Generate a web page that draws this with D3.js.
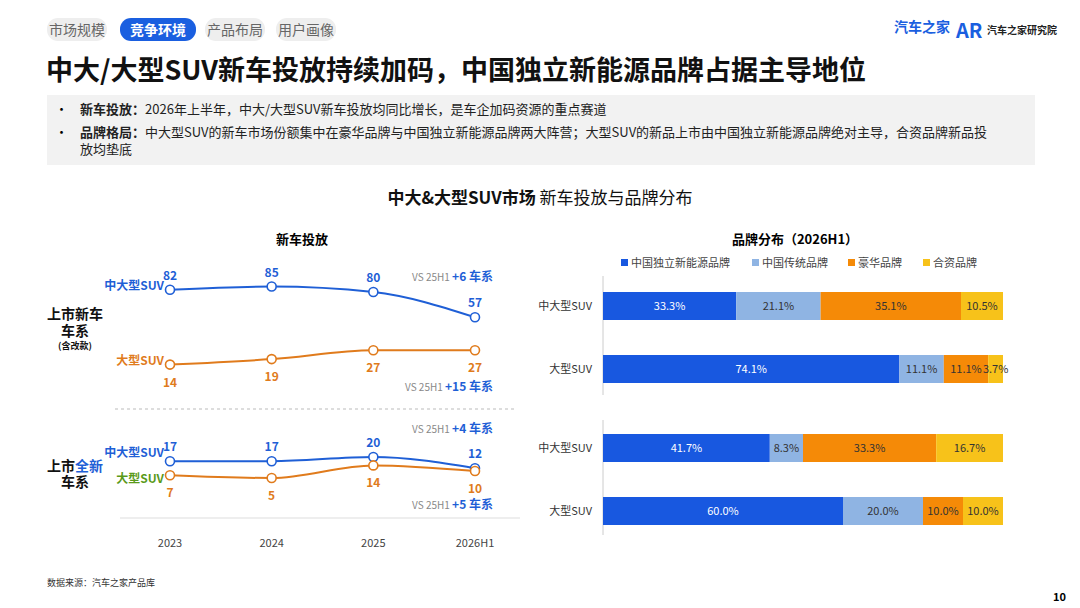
<!DOCTYPE html>
<html><head><meta charset="utf-8">
<script src="https://cdn.jsdelivr.net/npm/d3@7"></script>
<style>body{margin:0;background:#fff;font-family:"Noto Sans CJK SC","Noto Sans",sans-serif}</style>
</head><body><svg id="c" width="1080" height="608"></svg>
<script>
// data
var years = ["2023", "2024", "2025", "2026H1"];
var allMid = [82, 85, 80, 57];
var allLarge = [14, 19, 27, 27];
var newMid = [17, 17, 20, 12];
var newLarge = [7, 5, 14, 10];
var brands = ["中国独立新能源品牌", "中国传统品牌", "豪华品牌", "合资品牌"];
var brandColors = ["#1858e0", "#8fb4e3", "#f58a07", "#f7c21a"];
var rowLabels = ["中大型SUV", "大型SUV", "中大型SUV", "大型SUV"];
var shares = [[33.3, 21.1, 35.1, 10.5], [74.1, 11.1, 11.1, 3.7], [41.7, 8.3, 33.3, 16.7], [60.0, 20.0, 10.0, 10.0]];

var svg = d3.select("#c");
var blue = "#1f5fd6", orange = "#e07b1c", dark = "#111";

// tabs
var tabs = [["市场规模", 47, 60], ["竞争环境", 120, 76], ["产品布局", 205, 60], ["用户画像", 276, 60]];
tabs.forEach(function (t, i) {
  svg.append("rect").attr("x", t[1]).attr("y", 18).attr("width", t[2]).attr("height", 23).attr("rx", 11)
    .attr("fill", i == 1 ? "#1a5fe0" : "#eeeeee");
  svg.append("text").attr("x", t[1] + t[2] / 2).attr("y", 35).attr("text-anchor", "middle")
    .attr("font-size", 14).attr("font-weight", i == 1 ? "bold" : "normal").attr("fill", i == 1 ? "#fff" : "#666").text(t[0]);
});
// logos
svg.append("text").attr("x", 894).attr("y", 32).attr("font-size", 14).attr("font-weight", "bold").attr("fill", "#1a5fe0").text("汽车之家");
svg.append("text").attr("x", 956).attr("y", 38).attr("font-size", 20).attr("font-weight", "bold").attr("fill", "#1a5fe0").text("AR");
svg.append("text").attr("x", 987).attr("y", 34).attr("font-size", 10).attr("font-weight", "bold").attr("fill", "#222").text("汽车之家研究院");

svg.append("text").attr("x", 46).attr("y", 80).attr("font-size", 27).attr("font-weight", "bold").attr("fill", dark)
  .text("中大/大型SUV新车投放持续加码，中国独立新能源品牌占据主导地位");

// summary box
svg.append("rect").attr("x", 47).attr("y", 95).attr("width", 988).attr("height", 70).attr("fill", "#f2f2f2");
var bullets = [
  [114, "新车投放：", "2026年上半年，中大/大型SUV新车投放均同比增长，是车企加码资源的重点赛道"],
  [137, "品牌格局：", "中大型SUV的新车市场份额集中在豪华品牌与中国独立新能源品牌两大阵营；大型SUV的新品上市由中国独立新能源品牌绝对主导，合资品牌新品投"]
];
bullets.forEach(function (b) {
  svg.append("text").attr("x", 55).attr("y", b[0]).attr("font-size", 13).text("•");
  var t = svg.append("text").attr("x", 80).attr("y", b[0]).attr("font-size", 13).attr("fill", "#222");
  t.append("tspan").attr("font-weight", "bold").text(b[1]);
  t.append("tspan").text(b[2]);
});
svg.append("text").attr("x", 80).attr("y", 154).attr("font-size", 13).attr("fill", "#222").text("放均垫底");

var st = svg.append("text").attr("x", 540).attr("y", 204).attr("text-anchor", "middle").attr("font-size", 17).attr("fill", dark);
st.append("tspan").attr("font-weight", "bold").text("中大&大型SUV市场 ");
st.append("tspan").text("新车投放与品牌分布");

// ---- left line charts
svg.append("text").attr("x", 302).attr("y", 244).attr("text-anchor", "middle").attr("font-size", 13).attr("font-weight", "bold").text("新车投放");
var x = d3.scalePoint().domain(years).range([170, 475]);
var yTop = d3.scaleLinear().domain([0, 100]).range([380, 270]);
var yBot = d3.scaleLinear().domain([0, 20]).range([485, 457]);
var line = function (ys) {
  return d3.line().x(function (d, i) { return x(years[i]); }).y(function (d) { return ys(d); }).curve(d3.curveMonotoneX);
};
function series(vals, ys, color, above, name, nameDy, nameColor) {
  svg.append("path").datum(vals).attr("d", line(ys)).attr("fill", "none").attr("stroke", color).attr("stroke-width", 2);
  var g = svg.append("g");
  g.selectAll("circle").data(vals).join("circle").attr("cx", function (d, i) { return x(years[i]); })
    .attr("cy", function (d) { return ys(d); }).attr("r", 4.5).attr("fill", "#fff").attr("stroke", color).attr("stroke-width", 1.6);
  g.selectAll("text").data(vals).join("text").attr("x", function (d, i) { return x(years[i]); })
    .attr("y", function (d, i) { return ys(d) + (above ? -10 : 22); }).attr("text-anchor", "middle")
    .attr("font-size", 12).attr("font-weight", "bold").attr("fill", color).text(function (d) { return d; });
  svg.append("text").attr("x", 164).attr("y", ys(vals[0]) + nameDy).attr("text-anchor", "end").attr("font-size", 12)
    .attr("font-weight", "bold").attr("fill", nameColor || color).text(name);
}
series(allMid, yTop, blue, true, "中大型SUV", 0);
series(allLarge, yTop, orange, false, "大型SUV", 0);
series(newMid, yBot, blue, true, "中大型SUV", -4);
series(newLarge, yBot, orange, false, "大型SUV", 8, "#5a9a1a");

function vs(yy, num) {
  var t = svg.append("text").attr("x", 493).attr("y", yy).attr("text-anchor", "end").attr("font-size", 10).attr("fill", "#888");
  t.append("tspan").text("VS 25H1 ");
  t.append("tspan").attr("font-size", 12).attr("font-weight", "bold").attr("fill", blue).text(num + " 车系");
}
vs(281, "+6"); vs(391, "+15"); vs(433, "+4"); vs(509, "+5");

function rowLabel(lines, ys) {
  lines.forEach(function (l, i) {
    var t = svg.append("text").attr("x", 75).attr("y", ys[i]).attr("text-anchor", "middle")
      .attr("font-size", l.size || 14).attr("font-weight", "bold").attr("fill", dark);
    l.parts.forEach(function (p) { t.append("tspan").attr("fill", p[1] || dark).text(p[0]); });
  });
}
rowLabel([{parts: [["上市新车"]]}, {parts: [["车系"]]}, {parts: [["(含改款)"]], size: 9}], [319, 336, 349]);
rowLabel([{parts: [["上市"], ["全新", blue]]}, {parts: [["车系"]]}], [471, 487]);

svg.append("line").attr("x1", 115).attr("x2", 515).attr("y1", 409).attr("y2", 409).attr("stroke", "#bbb").attr("stroke-dasharray", "3,3");
svg.append("line").attr("x1", 120).attr("x2", 520).attr("y1", 518).attr("y2", 518).attr("stroke", "#ddd");
svg.append("g").selectAll("text").data(years).join("text").attr("x", function (d) { return x(d); }).attr("y", 547)
  .attr("text-anchor", "middle").attr("font-size", 11).attr("fill", "#444").text(function (d) { return d; });

// ---- right stacked bars
svg.append("text").attr("x", 795).attr("y", 244).attr("text-anchor", "middle").attr("font-size", 13).attr("font-weight", "bold").text("品牌分布（2026H1）");
var legX = [621, 752, 848, 923];
brands.forEach(function (b, i) {
  svg.append("rect").attr("x", legX[i]).attr("y", 259).attr("width", 7).attr("height", 7).attr("fill", brandColors[i]);
  svg.append("text").attr("x", legX[i] + 10).attr("y", 267).attr("font-size", 11).attr("fill", "#444").text(b);
});
var xb = d3.scaleLinear().domain([0, 100]).range([603, 1003]);
var rowY = [292, 355, 434, 497];
svg.append("line").attr("x1", 603).attr("x2", 603).attr("y1", 276).attr("y2", 395).attr("stroke", "#ccc");
svg.append("line").attr("x1", 603).attr("x2", 603).attr("y1", 420).attr("y2", 535).attr("stroke", "#ccc");
shares.forEach(function (row, r) {
  var acc = 0;
  var stacked = row.map(function (v) { var s = {v: v, x0: acc}; acc += v; return s; });
  var g = svg.append("g");
  g.selectAll("rect").data(stacked).join("rect").attr("x", function (d) { return xb(d.x0); }).attr("y", rowY[r])
    .attr("width", function (d) { return xb(d.x0 + d.v) - xb(d.x0); }).attr("height", 28)
    .attr("fill", function (d, i) { return brandColors[i]; });
  g.selectAll("text").data(stacked).join("text")
    .attr("x", function (d) { return (xb(d.x0) + xb(d.x0 + d.v)) / 2; }).attr("y", rowY[r] + 18)
    .attr("text-anchor", "middle").attr("font-size", 11)
    .attr("fill", function (d, i) { return i == 0 ? "#fff" : "#333"; })
    .text(function (d) { return d.v.toFixed(1) + "%"; });
  svg.append("text").attr("x", 592).attr("y", rowY[r] + 18).attr("text-anchor", "end").attr("font-size", 11).attr("fill", "#333").text(rowLabels[r]);
});

svg.append("text").attr("x", 47).attr("y", 586).attr("font-size", 9).attr("fill", "#333").text("数据来源：汽车之家产品库");
svg.append("text").attr("x", 1066).attr("y", 601).attr("text-anchor", "end").attr("font-size", 11).attr("font-weight", "bold").text("10");
</script></body></html>
